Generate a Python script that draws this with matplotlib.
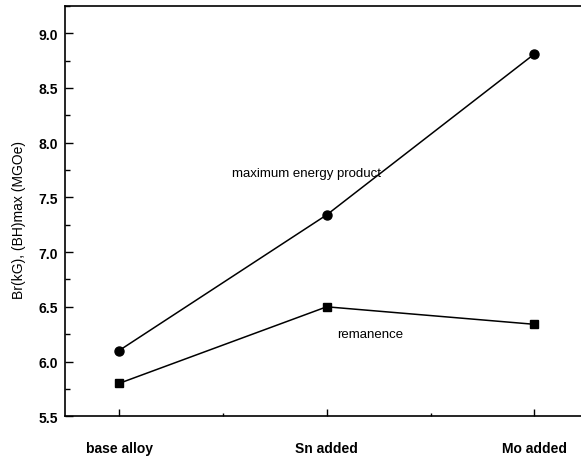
import matplotlib
matplotlib.use('Agg')
import matplotlib.pyplot as plt
from matplotlib.ticker import MultipleLocator

plt.rcParams['font.family'] = ['Liberation Sans', 'DejaVu Sans']

categories = ['base alloy', 'Sn added', 'Mo added']
energy_product = [6.10, 7.34, 8.81]
remanence = [5.80, 6.50, 6.34]

fig = plt.figure(figsize=(5.81, 4.60), dpi=100)
ax = fig.add_axes([0.112, 0.093, 0.897, 0.892])

x = list(range(len(categories)))
ax.plot(x, energy_product, color='black', lw=1.1, marker='o', ms=6.5)
ax.plot(x, remanence, color='black', lw=1.1, marker='s', ms=6)

ax.text(0.545, 7.72, 'maximum energy product', fontsize=9.5, va='center')
ax.text(1.05, 6.25, 'remanence', fontsize=9.5, va='center')

ax.set_xlim(-0.26, 2.25)
ax.set_xticks(x)
ax.set_xticklabels(categories, fontsize=10, fontweight='bold')
ax.xaxis.set_minor_locator(MultipleLocator(0.5))
ax.yaxis.set_major_locator(MultipleLocator(0.5))
ax.yaxis.set_minor_locator(MultipleLocator(0.25))
ax.yaxis.set_major_formatter(matplotlib.ticker.FormatStrFormatter('%.1f'))
ax.tick_params(axis='y', labelsize=10)
for lab in ax.get_yticklabels():
    lab.set_fontweight('bold')

ax.tick_params(which='major', direction='in', length=6, width=1)
ax.tick_params(which='minor', direction='in', length=3.5, width=1)
ax.tick_params(axis='x', which='major', pad=18, length=5)
ax.tick_params(axis='x', which='minor', length=2.5)
ax.tick_params(axis='y', pad=5)
ax.set_ylim(5.5, 9.25)
for lab in ax.get_yticklabels():
    lab.set_fontweight('bold')

ax.set_ylabel('Br(kG), (BH)max (MGOe)', fontsize=10)
ax.yaxis.set_label_coords(-0.075, 0.48)

for s in ax.spines.values():
    s.set_linewidth(1.2)
ax.spines['right'].set_visible(False)

fig.savefig('out.png', dpi=100)
